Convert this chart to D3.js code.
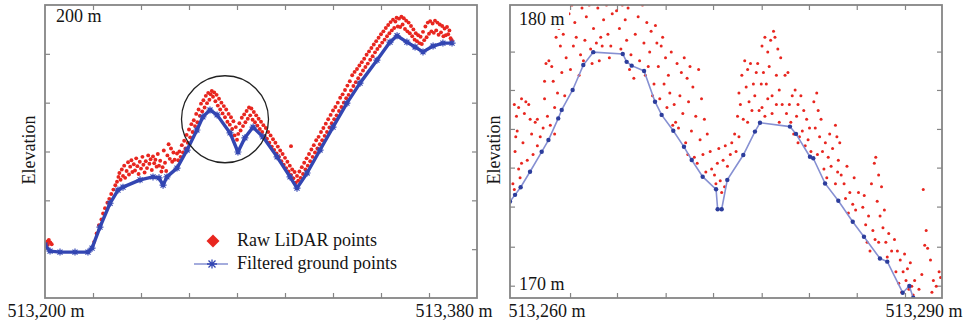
<!DOCTYPE html>
<html>
<head>
<meta charset="utf-8">
<script src="https://cdn.jsdelivr.net/npm/d3@7"></script>
<style>
    body { margin: 0; background: #fff; }
    text { font-family: "Liberation Serif", "Times New Roman", serif; font-size: 18px; fill: #151515; }
</style>
</head>
<body>
<svg id="chart" width="970" height="325"></svg>
<script>

// Left panel: whole profile. x is metres east of 513,200 m, y is elevation (m).
const leftXLabels = ["513,200 m", "513,380 m"];
const leftYLabel = "200 m";
const leftXTicks = [20, 40, 60, 80, 100, 120, 140, 160];
const leftYTicks = [150, 160, 170, 180, 190];

const leftGround = [
    [0, 150.85], [2.1, 149.6], [6.25, 149.4], [12.5, 149.4], [17.9, 149.4], [19.6, 150.2],
    [22.9, 154.5], [27.1, 159.4], [30.4, 162.1], [32.5, 162.7], [39.6, 164.2], [45, 164.8],
    [47.5, 164.6], [49.2, 163.1], [50.8, 164.8], [55, 166.6], [59.2, 170.3], [63.3, 174.4],
    [65.8, 177.1], [68.75, 178.5], [71.7, 177.5], [77.1, 173.8], [80.4, 169.9], [83.3, 172.8],
    [86.7, 175], [90.8, 173], [96.7, 168.9], [102.1, 164.8], [105, 162.5], [109.2, 165.6],
    [114.6, 170.3], [120, 175], [125.8, 179.9], [131.25, 184], [138.3, 188.7], [143.75, 192.4],
    [146.7, 193.7], [150.8, 192.4], [154.2, 191.4], [157.5, 190.4], [161.7, 191.6], [165.8, 192.2],
    [169.6, 192.2]
];

const leftRaw = [
    [0.5, 151.2], [1, 151.6], [1.6, 151.9], [2.2, 151.4], [2.8, 151.0], [1.2, 150.9],
    [20.5, 151.5], [21.5, 153.2], [22.5, 154.9], [23.5, 156.1], [24.2, 157.3], [25, 158.4],
    [26, 159.5], [26.8, 160.3], [27.6, 161.3], [28.5, 162.2], [29.3, 163.1], [30.0, 163.8], [30.6, 164.8],
    [31, 165.6], [31.5, 164.2], [32, 166.3], [32.5, 165.0], [33, 167.1], [33.4, 164.6], [34, 166.0],
    [34.6, 167.8], [35, 165.3], [35.5, 166.9], [36, 168.2], [36.4, 165.8], [37, 167.4], [37.5, 166.1],
    [38, 168.6], [38.5, 167.0], [39, 165.4], [39.5, 167.9], [40, 166.5], [40.6, 168.9], [41, 167.3],
    [41.5, 165.7], [42, 168.0], [42.5, 166.6], [43, 169.2], [43.5, 167.5], [44, 168.4], [44.5, 166.2],
    [45, 169.0], [45.5, 167.6], [46, 168.3], [46.5, 166.9], [47, 169.5], [47.5, 167.1], [48, 168.1],
    [48.5, 165.9], [49, 166.8], [49.5, 170.2], [50, 167.7], [50.5, 166.0], [51, 169.2], [51.5, 171.5],
    [52, 168.5], [52.5, 170.6], [53, 167.9], [53.5, 169.8], [54, 168.3], [55, 169.6],
    [55.5, 168.2], [56, 170.0], [56.5, 168.9], [57, 171.3], [57.5, 169.8], [58, 172.2], [58.5, 170.6],
    [59, 173.4], [59.5, 171.8], [60, 174.5], [60.5, 172.9], [61, 175.6], [61.5, 174.0], [62, 176.4],
    [62.5, 175.2], [63, 177.7], [63.5, 176.0], [64, 178.6], [64.5, 177.3], [65, 179.8], [65.5, 178.2],
    [66, 180.5], [66.5, 179.0], [67, 181.4], [67.5, 179.9], [68, 182.0], [68.5, 180.6], [69, 181.7],
    [69.5, 182.4], [70, 181.2],
    [70.5, 182.1], [71, 180.3], [71.5, 181.6], [72, 179.4], [72.5, 180.8], [73, 178.6], [73.5, 180.0],
    [74, 177.8], [74.5, 179.3], [75, 177.0], [75.5, 178.6], [76, 176.1], [76.5, 177.7], [77, 175.5],
    [77.5, 177.0], [78, 174.6], [78.5, 176.2], [79, 173.3], [79.5, 175.0], [80, 172.4], [80.5, 173.6],
    [81, 175.8], [81.5, 174.3], [82, 176.9], [82.5, 175.2], [83, 177.6], [83.5, 176.0], [84, 178.3],
    [84.5, 176.7], [85, 179.0], [85.5, 177.4], [86, 178.8], [86.5, 176.5], [87, 178.1],
    [87.5, 176.0], [88, 177.4], [88.5, 175.3], [89, 176.7], [89.5, 174.6], [90, 176.1], [90.5, 174.0],
    [91, 175.4], [91.5, 173.2], [92, 174.8], [92.5, 172.6], [93, 174.0], [93.5, 171.8], [94, 173.3],
    [94.5, 171.0], [95, 172.5], [95.5, 170.3], [96, 171.8], [96.5, 169.6], [97, 171.0], [97.5, 168.9],
    [98, 170.2], [98.5, 168.0], [99, 169.5], [99.5, 167.3], [100, 168.7], [100.5, 166.6], [101, 167.9],
    [101.5, 165.9], [102, 167.1], [102.5, 165.2], [103, 166.3], [103.5, 164.5], [104, 165.8],
    [104.5, 163.6], [105, 165.0], [105.5, 164.0], [102.5, 171.1],
    [106, 165.9], [106.5, 164.6], [107, 166.8], [107.5, 165.4], [108, 167.7], [108.5, 166.3],
    [109, 168.6], [109.5, 167.1], [110, 169.5], [110.5, 168.0], [111, 170.4], [111.5, 168.9],
    [112, 171.3], [112.5, 169.8], [113, 172.3], [113.5, 170.6], [114, 173.0], [114.5, 171.5],
    [115, 174.0], [115.5, 172.3], [116, 174.8], [116.5, 173.2], [117, 175.7], [117.5, 174.0],
    [118, 176.6], [118.5, 174.9], [119, 177.5], [119.5, 175.8], [120, 178.4], [120.5, 176.6],
    [121, 179.1], [121.5, 177.4], [122, 180.0], [122.5, 178.3], [123, 181.0], [123.5, 179.1],
    [124, 181.7], [124.5, 180.0], [125, 182.6], [125.5, 180.9], [126, 183.5], [126.5, 181.6],
    [127, 184.4], [127.5, 182.5], [128, 185.6], [128.5, 183.4], [129, 186.3], [129.5, 184.2],
    [130, 186.9], [130.5, 185.0], [131, 187.6], [131.5, 185.8], [132, 188.3], [132.5, 186.6],
    [133, 189.0], [133.5, 187.3], [134, 189.8], [134.5, 188.0], [135, 190.5], [135.5, 188.8],
    [136, 191.2], [136.5, 189.5], [137, 191.9], [137.5, 190.3], [138, 192.6], [138.5, 191.0],
    [139, 193.3], [139.5, 191.6], [140, 194.0], [140.5, 192.3], [141, 194.6], [141.5, 192.9],
    [142, 195.3], [142.5, 193.6], [143, 195.9], [143.5, 194.2], [144, 196.5], [144.5, 194.8],
    [145, 197.0], [145.5, 195.3], [146, 196.6], [146.5, 197.4], [147, 195.6],
    [147.5, 197.2], [148, 195.5], [148.5, 197.6], [149, 196.0], [149.5, 197.3], [150, 195.1],
    [150.5, 196.8], [151, 194.6], [151.5, 196.4], [152, 194.2], [152.5, 195.7], [153, 193.6],
    [153.5, 195.0], [154, 192.9], [154.5, 194.2], [155, 192.6], [155.5, 193.8], [156, 192.2],
    [156.5, 193.5], [157, 192.0], [157.5, 194.5], [158, 192.8], [158.5, 195.6], [159, 193.4],
    [159.5, 196.4], [160, 194.1], [160.5, 196.7], [161, 194.6], [161.5, 196.2], [162, 194.3],
    [162.5, 196.8], [163, 194.8], [163.5, 196.4], [164, 193.9], [164.5, 196.0], [165, 194.4],
    [165.5, 195.7], [166, 193.6], [166.5, 195.2], [167, 193.8], [167.5, 195.5], [168, 194.0],
    [168.5, 194.8], [169, 193.2], [169.5, 192.8]
];

// Circled area (centre in data units, radius in px) and legend texts.
const circleCentre = [75, 176.6];
const legendLabels = ["Raw LiDAR points", "Filtered ground points"];

// Right panel: close-up of the circled area. x is metres east of 513,260 m.
const rightXLabels = ["513,260 m", "513,290 m"];
const rightYLabels = ["180 m", "170 m"];
const rightXTicks = [4.17, 7.43, 10.81, 14.1, 17.48, 20.76, 24.08, 27.43];
const rightYTicks = [170.42, 171.75, 173.12, 174.45, 175.77, 177.1, 178.41];

const rightGround = [
    [0, 173.29], [0.35, 173.52], [0.74, 173.78], [1.39, 174.31], [2.2, 174.99], [2.67, 175.39],
    [3.35, 176.13], [3.59, 176.42], [4.35, 177.1], [5.09, 177.95], [5.78, 178.39], [7.83, 178.33],
    [8.1, 178.06], [8.45, 177.93], [9.31, 177.75], [10.07, 176.7], [10.53, 176.25], [11.34, 175.71],
    [12.08, 175.16], [12.62, 174.71], [13.38, 174.14], [14.31, 173.71], [14.42, 173.03], [14.7, 173.03],
    [15.09, 174.03], [16.2, 174.88], [17.01, 175.68], [17.36, 175.98], [19.44, 175.85], [19.86, 175.6],
    [20.83, 174.82], [21.06, 174.77], [21.88, 173.91], [22.8, 173.32], [23.8, 172.6], [24.58, 172.09],
    [25.69, 171.35], [26.2, 171.24], [27.27, 170.18], [27.73, 170.41], [28.0, 170.01]
];

const rightRaw = [
    [0.2, 173.9], [0.3, 173.7], [0.4, 175.5], [0.5, 175.7], [0.45, 176.2], [0.6, 176.5], [0.8, 176.8],
    [1.1, 176.7], [1.3, 176.6], [1.0, 176.3], [1.4, 176.1], [1.9, 176.1], [0.35, 175.0], [0.9, 175.3],
    [0.8, 174.6], [1.2, 174.7], [1.6, 174.9], [1.9, 175.2], [2.1, 175.5], [0.6, 174.4], [1.5, 175.6],
    [1.75, 176.0], [0.3, 176.6], [0.7, 174.1],
    [2.4, 177.4], [2.5, 178.0], [2.7, 178.1], [2.9, 177.9], [3.0, 177.4], [2.4, 176.8], [2.6, 176.2],
    [2.8, 175.9], [3.1, 176.5], [3.3, 177.0], [3.5, 178.6], [3.4, 179.2], [3.7, 179.0], [3.2, 178.9],
    [3.6, 177.7], [3.8, 176.9], [3.9, 178.2], [2.3, 175.8], [3.1, 175.6],
    [4.1, 179.7], [4.3, 180.0], [4.5, 179.4], [4.7, 180.1], [5.0, 179.9], [5.3, 179.6], [5.5, 180.0],
    [4.4, 178.6], [4.6, 178.9], [4.9, 178.3], [5.2, 178.8], [5.6, 178.5], [5.8, 179.2], [6.0, 178.7],
    [6.3, 178.9], [6.5, 179.5], [6.8, 179.0], [7.0, 178.6], [6.1, 179.9], [6.7, 180.0], [4.2, 177.8],
    [4.8, 177.6], [5.7, 178.0], [6.2, 178.1], [6.9, 178.2], [7.1, 179.7], [5.1, 178.1], [6.4, 178.6],
    [7.4, 179.8], [7.8, 180.0], [8.2, 179.9], [8.5, 180.1], [8.9, 179.6], [9.2, 180.0], [9.5, 179.4],
    [9.8, 179.1], [10.1, 179.3], [7.6, 179.2], [8.0, 179.5], [8.7, 179.0], [9.3, 178.7], [9.7, 178.4],
    [10.2, 178.7], [8.1, 178.8], [8.4, 178.3], [9.0, 178.1], [9.6, 177.9], [10.0, 177.3], [10.3, 177.9],
    [7.7, 178.5], [9.4, 177.6], [8.6, 177.5], [9.9, 176.9], [8.3, 177.8], [10.4, 176.8],
    [10.5, 178.6], [10.6, 178.9], [10.8, 178.2], [11.0, 177.6], [11.2, 178.4], [10.7, 177.3],
    [11.1, 177.0], [11.4, 176.6], [11.6, 178.0], [11.9, 177.7], [12.1, 178.2], [12.3, 177.5],
    [12.5, 177.9], [11.8, 176.9], [12.0, 176.3], [12.4, 176.7], [12.7, 177.2], [12.9, 176.2],
    [13.1, 177.8], [13.3, 176.8], [13.5, 176.1], [13.7, 175.6], [13.2, 175.4], [12.6, 175.7],
    [12.2, 175.3], [11.5, 176.0], [11.7, 175.8], [12.8, 174.8], [13.0, 174.6], [13.4, 174.9],
    [13.6, 174.3], [13.9, 175.0], [14.0, 174.4], [12.35, 174.9], [11.3, 175.9], [10.9, 176.5],
    [14.2, 174.2], [14.3, 173.9], [14.4, 174.6], [14.5, 175.1], [14.6, 174.0], [14.7, 173.6],
    [14.8, 174.7], [14.95, 175.2], [15.1, 174.5], [15.3, 174.9], [15.4, 175.3], [14.9, 173.8],
    [15.6, 175.6], [15.8, 176.2], [15.9, 177.0], [16.1, 177.6], [16.3, 178.1], [16.5, 177.8],
    [16.7, 178.0], [16.9, 177.3], [17.1, 177.7], [15.7, 175.0], [16.0, 176.6], [16.2, 176.1],
    [16.4, 177.2], [16.6, 176.7], [16.8, 176.4], [17.0, 176.9], [17.3, 176.4], [16.5, 176.0],
    [15.9, 175.5], [17.2, 178.0],
    [17.5, 178.6], [17.7, 178.9], [17.9, 178.4], [18.1, 178.8], [18.3, 179.1], [18.4, 178.9],
    [18.6, 178.5], [18.8, 178.2], [17.6, 177.7], [17.8, 177.3], [18.0, 177.9], [18.2, 176.9],
    [18.5, 177.6], [18.7, 177.1], [18.9, 176.6], [17.5, 176.5], [17.7, 176.2], [17.9, 176.8],
    [18.2, 176.3], [18.5, 176.6], [18.7, 176.0], [17.45, 177.3],
    [19.1, 177.6], [19.3, 177.7], [19.6, 176.9], [19.8, 177.1], [20.0, 176.6], [20.2, 176.9],
    [20.4, 176.4], [20.6, 176.1], [20.8, 175.8], [19.2, 176.3], [19.5, 176.0], [19.7, 175.6],
    [19.9, 176.2], [20.1, 175.5], [20.3, 175.7], [20.5, 175.2], [20.7, 175.4], [20.9, 175.0],
    [19.4, 176.6], [20.0, 175.3],
    [21.1, 176.7], [21.3, 177.0], [21.4, 176.4], [21.6, 176.1], [21.2, 175.8], [21.5, 175.5],
    [21.7, 175.0], [21.9, 175.3], [22.1, 174.8], [22.3, 174.5], [21.8, 174.4], [22.0, 174.1],
    [22.4, 175.1], [21.35, 174.9], [22.2, 175.6],
    [22.6, 175.9], [22.7, 175.5], [22.9, 175.3], [22.8, 174.7], [23.0, 174.2], [23.2, 173.9],
    [22.6, 173.9], [23.4, 174.5], [23.6, 173.6], [23.8, 173.2], [24.0, 173.0], [23.3, 173.4],
    [23.5, 172.9], [24.2, 173.6], [23.9, 174.1], [22.75, 174.3],
    [24.5, 173.1], [24.7, 172.5], [24.9, 172.8], [25.1, 173.9], [25.3, 174.6], [25.4, 174.8],
    [25.6, 174.2], [25.8, 173.8], [25.5, 173.3], [25.2, 172.3], [24.8, 171.9], [25.0, 171.6],
    [25.7, 172.8], [25.9, 172.4], [26.1, 171.9], [26.3, 172.2], [26.5, 171.6], [25.6, 171.9],
    [26.0, 173.0], [24.6, 173.5], [26.2, 171.4], [25.35, 172.0],
    [26.7, 172.0], [26.9, 171.6], [27.1, 171.3], [27.3, 170.9], [27.5, 170.6], [27.7, 170.3],
    [26.8, 170.9], [27.0, 170.5], [27.2, 170.2], [27.4, 171.5], [27.6, 171.0], [27.9, 170.4],
    [28.1, 170.6], [28.0, 170.1], [27.8, 171.2],
    [28.4, 170.3], [28.6, 170.8], [28.7, 173.7], [28.8, 171.8], [29.0, 171.7], [29.2, 171.3],
    [29.4, 170.6], [29.6, 170.4], [29.8, 170.9], [29.9, 170.7], [28.9, 172.3], [29.3, 170.2]
];

// Display parameters.
let rawColour = "#e8261f";
let groundColour = "#3346b2";
let groundLineLight = "#8690d2";
let frameColour = "#858585";
let tickLength = 5;
let asterisk = "M-3.5,0H3.5M0,-3.5V3.5M-2.5,-2.5L2.5,2.5M-2.5,2.5L2.5,-2.5";

let svg = d3.select("#chart");

svg.append("rect")
    .attr("width", 970)
    .attr("height", 325)
    .attr("fill", "#fff");

function drawPanel(p) {
    /*
    Draws one framed panel with inward ticks on all four sides.
    */

    let x = d3.scaleLinear().domain(p.xDomain).range([p.left, p.right]);
    let y = d3.scaleLinear().domain(p.yDomain).range([p.bottom, p.top]);

    let g = svg.append("g").attr("class", p.id);

    // Clip marks to the frame.
    g.append("clipPath")
        .attr("id", `clip_${p.id}`)
        .append("rect")
        .attr("x", p.left)
        .attr("y", p.top)
        .attr("width", p.right - p.left)
        .attr("height", p.bottom - p.top);

    // Inward ticks, no numbers.
    let axes = [
        [d3.axisBottom(x).tickValues(p.xTicks), `translate(0,${p.bottom})`],
        [d3.axisTop(x).tickValues(p.xTicks), `translate(0,${p.top})`],
        [d3.axisLeft(y).tickValues(p.yTicks), `translate(${p.left},0)`],
        [d3.axisRight(y).tickValues(p.yTicks), `translate(${p.right},0)`]
    ];
    axes.forEach(function(a) {
        let ax = g.append("g")
            .attr("transform", a[1])
            .call(a[0].tickSize(-tickLength).tickFormat(""));
        ax.select(".domain").remove();
        ax.selectAll("line").attr("stroke", frameColour).attr("stroke-width", 1.2);
    });

    let marks = g.append("g").attr("clip-path", `url(#clip_${p.id})`);

    return { x: x, y: y, g: g, marks: marks };
}

function drawFrame(p, g) {
    g.append("rect")
        .attr("x", p.left)
        .attr("y", p.top)
        .attr("width", p.right - p.left)
        .attr("height", p.bottom - p.top)
        .attr("fill", "none")
        .attr("stroke", frameColour)
        .attr("stroke-width", 1.8);
}

// ---- Left panel ----
let leftBox = {
    id: "left", left: 45, right: 477, top: 5, bottom: 298,
    xDomain: [0, 180], yDomain: [140, 200],
    xTicks: leftXTicks, yTicks: leftYTicks
};
let L = drawPanel(leftBox);

// Raw LiDAR points.
L.marks.append("g")
    .selectAll("circle")
    .data(leftRaw)
    .enter()
    .append("circle")
    .attr("cx", d => L.x(d[0]))
    .attr("cy", d => L.y(d[1]))
    .attr("r", 1.95)
    .attr("fill", rawColour);

// Filtered ground points.
L.marks.append("path")
    .datum(leftGround)
    .attr("fill", "none")
    .attr("stroke", groundColour)
    .attr("stroke-width", 3.4)
    .attr("stroke-linejoin", "round")
    .attr("d", d3.line().x(d => L.x(d[0])).y(d => L.y(d[1])));

L.marks.append("g")
    .selectAll("path")
    .data(leftGround)
    .enter()
    .append("path")
    .attr("transform", d => `translate(${L.x(d[0])},${L.y(d[1])})`)
    .attr("d", asterisk)
    .attr("stroke", groundColour)
    .attr("stroke-width", 1.2);

// Circle round the close-up area.
L.g.append("circle")
    .attr("cx", L.x(circleCentre[0]))
    .attr("cy", L.y(circleCentre[1]))
    .attr("r", 43.5)
    .attr("fill", "none")
    .attr("stroke", "#222")
    .attr("stroke-width", 1.3);

drawFrame(leftBox, L.g);

// Legend.
let legend = L.g.append("g");
legend.append("path")
    .attr("d", "M213,234.5L219.5,241L213,247.5L206.5,241Z")
    .attr("fill", rawColour);
legend.append("line")
    .attr("x1", 194).attr("x2", 228)
    .attr("y1", 264).attr("y2", 264)
    .attr("stroke", groundLineLight)
    .attr("stroke-width", 1.6);
legend.append("path")
    .attr("transform", "translate(212,264)")
    .attr("d", "M-5,0H5M0,-4.5V4.5M-3.5,-3.5L3.5,3.5M-3.5,3.5L3.5,-3.5")
    .attr("stroke", groundColour)
    .attr("stroke-width", 1.3);
legend.selectAll("text")
    .data(legendLabels)
    .enter()
    .append("text")
    .attr("x", 237)
    .attr("y", (d, i) => 246 + i * 23)
    .text(d => d);

// Labels.
L.g.append("text").attr("x", 56).attr("y", 22).text(leftYLabel);
L.g.append("text")
    .attr("transform", "translate(35,150) rotate(-90)")
    .attr("text-anchor", "middle")
    .text("Elevation");
L.g.append("text").attr("x", 46).attr("y", 317).attr("text-anchor", "middle").text(leftXLabels[0]);
L.g.append("text").attr("x", 454).attr("y", 317).attr("text-anchor", "middle").text(leftXLabels[1]);

// ---- Right panel ----
let rightBox = {
    id: "right", left: 510, right: 942, top: 5, bottom: 298,
    xDomain: [0, 30], yDomain: [170, 180],
    xTicks: rightXTicks, yTicks: rightYTicks
};
let R = drawPanel(rightBox);

// White boxes behind the corner labels.
R.g.append("rect").attr("x", 515).attr("y", 9).attr("width", 54).attr("height", 20).attr("fill", "#fff");
R.g.append("rect").attr("x", 515).attr("y", 274).attr("width", 54).attr("height", 20).attr("fill", "#fff");

R.marks.append("g")
    .selectAll("circle")
    .data(rightRaw)
    .enter()
    .append("circle")
    .attr("cx", d => R.x(d[0]))
    .attr("cy", d => R.y(d[1]))
    .attr("r", 1.5)
    .attr("fill", rawColour);

R.marks.append("path")
    .datum(rightGround)
    .attr("fill", "none")
    .attr("stroke", groundLineLight)
    .attr("stroke-width", 1.6)
    .attr("d", d3.line().x(d => R.x(d[0])).y(d => R.y(d[1])));

R.marks.append("g")
    .selectAll("circle")
    .data(rightGround)
    .enter()
    .append("circle")
    .attr("cx", d => R.x(d[0]))
    .attr("cy", d => R.y(d[1]))
    .attr("r", 2.2)
    .attr("fill", "#2c3d9c");

drawFrame(rightBox, R.g);

R.g.append("text").attr("x", 519).attr("y", 25).text(rightYLabels[0]);
R.g.append("text").attr("x", 519).attr("y", 290).text(rightYLabels[1]);
R.g.append("text")
    .attr("transform", "translate(500,150) rotate(-90)")
    .attr("text-anchor", "middle")
    .text("Elevation");
R.g.append("text").attr("x", 547).attr("y", 317).attr("text-anchor", "middle").text(rightXLabels[0]);
R.g.append("text").attr("x", 924).attr("y", 317).attr("text-anchor", "middle").text(rightXLabels[1]);

</script>
</body>
</html>
